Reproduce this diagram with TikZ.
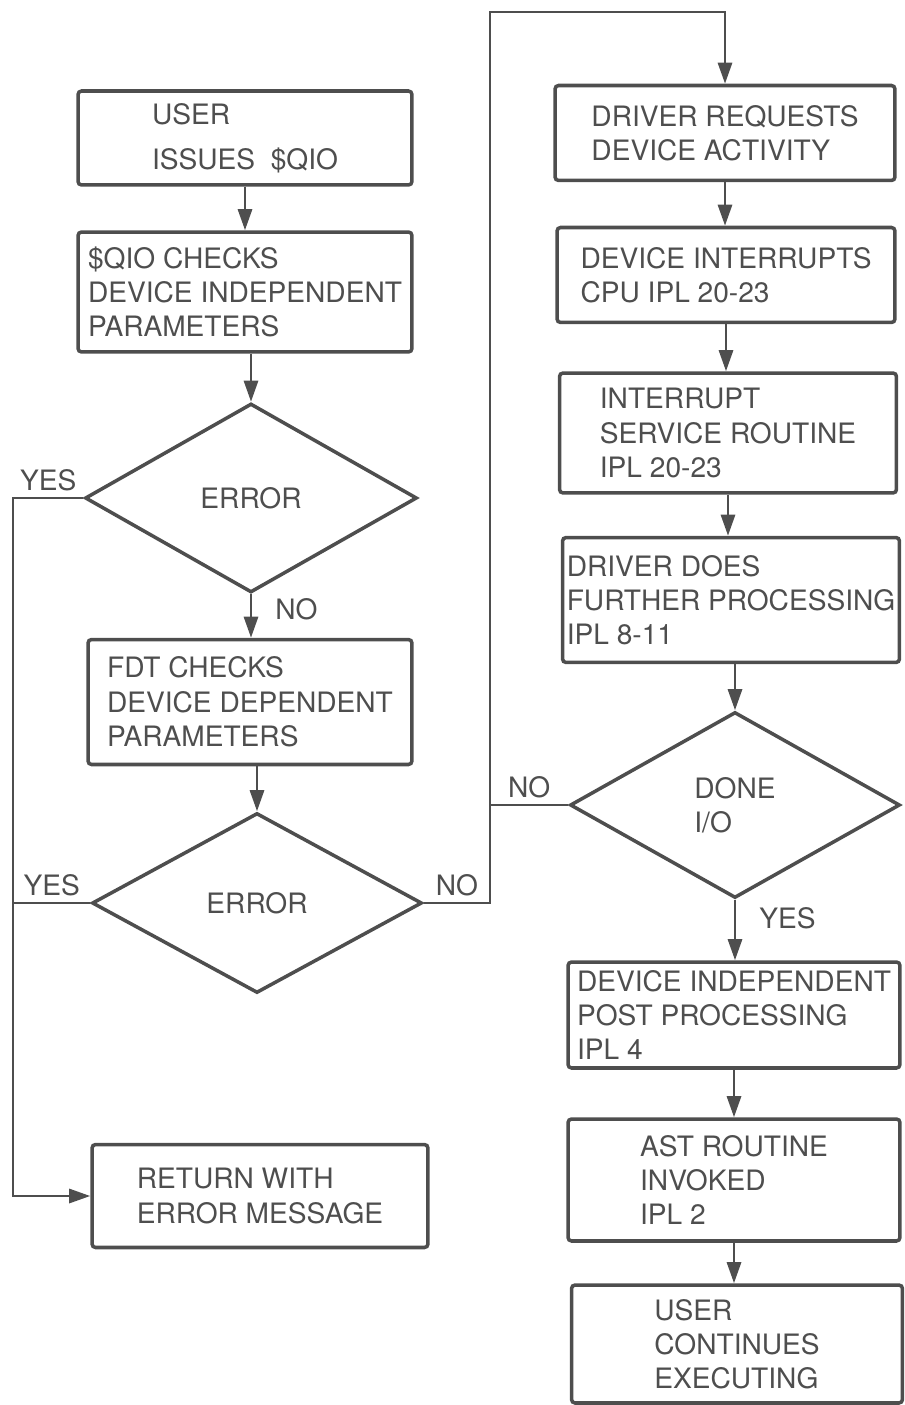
\documentclass[tikz,border=0pt]{standalone}
\usepackage{fontspec}
\setmainfont{TeX Gyre Heros}
\usetikzlibrary{arrows.meta, shapes.geometric}
\definecolor{inkgray}{RGB}{78,78,78}

\begin{document}
\begin{tikzpicture}[x=0.02cm, y=-0.02cm,
    box/.style={draw=inkgray, line width=2pt, rounded corners=2pt, align=left, text=inkgray, font=\fontsize{16}{19.5}\selectfont, inner sep=0pt},
    decision/.style={draw=inkgray, diamond, line width=2pt, align=left, text=inkgray, font=\fontsize{16}{19.5}\selectfont, inner sep=0pt},
    lbl/.style={text=inkgray, font=\fontsize{16}{19}\selectfont, inner sep=1pt},
    arr/.style={-{Triangle[length=12pt, width=8pt]}, draw=inkgray, line width=1.6pt},
    wire/.style={draw=inkgray, line width=1.6pt}
]
    \useasboundingbox (0,0) rectangle (904,1405);

    % Request side
    \node[box, minimum width=6.68cm, minimum height=1.88cm] (user) at (245,138) {USER\\[6pt]ISSUES~\ \$QIO};
    \node[box, minimum width=6.68cm, minimum height=2.4cm] (qio) at (245,292) {\$QIO CHECKS\\DEVICE INDEPENDENT\\PARAMETERS};
    \node[decision, minimum width=6.64cm, minimum height=3.78cm] (err1) at (251,498) {ERROR};
    \node[box, minimum width=6.48cm, minimum height=2.5cm] (fdt) at (250,702) {FDT CHECKS\\DEVICE DEPENDENT\\PARAMETERS};
    \node[decision, minimum width=6.6cm, minimum height=3.6cm] (err2) at (257,903) {ERROR};
    \node[box, minimum width=6.72cm, minimum height=2.06cm] (ret) at (260,1196) {RETURN WITH\\ERROR MESSAGE};

    % Driver side
    \node[box, minimum width=6.8cm, minimum height=1.9cm] (req) at (725,133) {DRIVER REQUESTS\\DEVICE ACTIVITY};
    \node[box, minimum width=6.76cm, minimum height=1.9cm] (intr) at (726,275) {DEVICE INTERRUPTS\\CPU IPL 20-23};
    \node[box, minimum width=6.74cm, minimum height=2.4cm] (isr) at (728,433) {INTERRUPT\\SERVICE ROUTINE\\IPL 20-23};
    \node[box, minimum width=6.74cm, minimum height=2.5cm] (drv) at (731,600) {DRIVER DOES\\FURTHER PROCESSING\\IPL 8-11};
    \node[decision, minimum width=6.6cm, minimum height=3.72cm] (done) at (735,805) {DONE\\I/O};
    \node[box, minimum width=6.64cm, minimum height=2.12cm] (post) at (734,1015) {DEVICE INDEPENDENT\\POST PROCESSING\\IPL 4};
    \node[box, minimum width=6.64cm, minimum height=2.44cm] (ast) at (734,1180) {AST ROUTINE\\INVOKED\\IPL 2};
    \node[box, minimum width=6.62cm, minimum height=2.36cm] (cont) at (737,1344) {USER\\CONTINUES\\EXECUTING};

    % Bus lines
    \coordinate (yesline) at (13,0);
    \coordinate (nobus) at (490,12);

    % Request flow
    \draw[arr] (user) -- (qio);
    \draw[arr] (qio.south -| err1.north) -- (err1.north);
    \draw[arr] (err1.south) -- node[lbl, right=12pt, pos=0.35] {NO} (err1.south |- fdt.north);
    \draw[arr] (fdt.south -| err2.north) -- (err2.north);

    % Error returns
    \draw[arr] (err1.west) -- node[lbl, above=2pt] {YES} (err1.west -| yesline) |- (ret.west);
    \draw[wire] (err2.west) -- node[lbl, above=2pt] {YES} (err2.west -| yesline);

    % Loop to driver
    \draw[arr] (err2.east) -- node[lbl, above=2pt] {NO} (err2.east -| nobus) -- (nobus) -| (req.north);
    \draw[wire] (done.west) -- node[lbl, above=2pt] {NO} (done.west -| nobus);

    % Driver flow
    \draw[arr] (req.south) -- (req.south |- intr.north);
    \draw[arr] (intr.south) -- (intr.south |- isr.north);
    \draw[arr] (isr.south) -- (isr.south |- drv.north);
    \draw[arr] (drv.south -| done.north) -- (done.north);
    \draw[arr] (done.south) -- node[lbl, right=12pt, pos=0.3] {YES} (done.south |- post.north);
    \draw[arr] (post.south) -- (post.south |- ast.north);
    \draw[arr] (ast.south) -- (ast.south |- cont.north);
\end{tikzpicture}
\end{document}
